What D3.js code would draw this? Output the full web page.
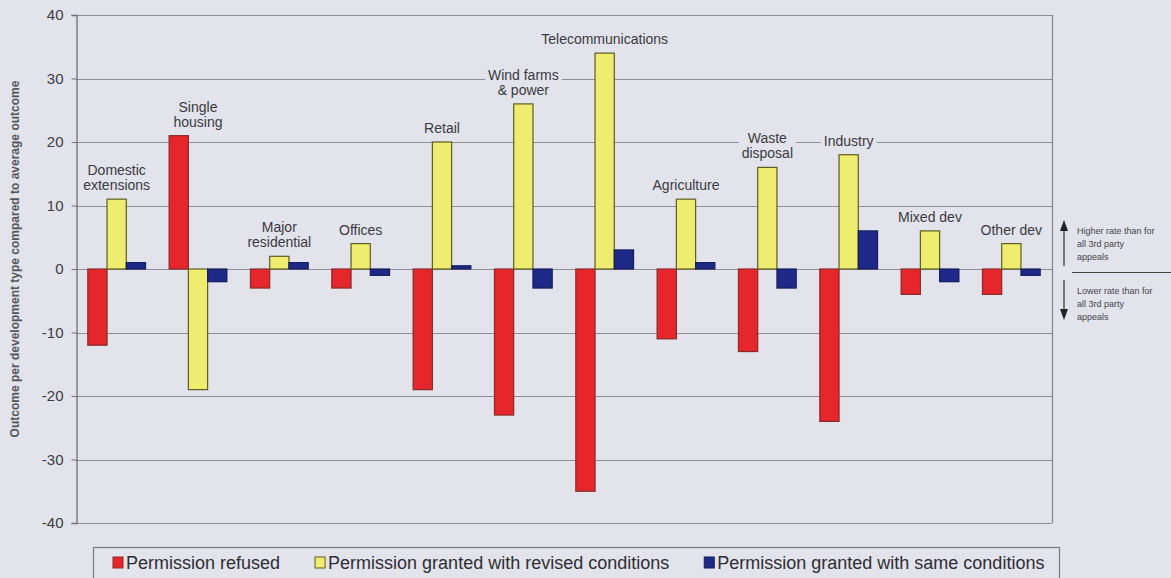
<!DOCTYPE html>
<html>
<head>
<meta charset="utf-8">
<script src="https://cdn.jsdelivr.net/npm/d3@7"></script>
<style>
  body { margin: 0; background: #e3e3eb; }
  svg { display: block; }
  text { font-family: "Liberation Sans", Arial, sans-serif; }
</style>
</head>
<body>
<svg id="chart" width="1171" height="578"></svg>
<script>
// Development types on the category axis
const categories = [
  "Domestic extensions", "Single housing", "Major residential", "Offices",
  "Retail", "Wind farms & power", "Telecommunications", "Agriculture",
  "Waste disposal", "Industry", "Mixed dev", "Other dev"
];
// Category captions as they are broken over lines above each group
const categoryLines = [
  ["Domestic", "extensions"], ["Single", "housing"], ["Major", "residential"], ["Offices"],
  ["Retail"], ["Wind farms", "& power"], ["Telecommunications"], ["Agriculture"],
  ["Waste", "disposal"], ["Industry"], ["Mixed dev"], ["Other dev"]
];

// Outcome per development type compared to the average outcome (percentage points)
const refused = [-12, 21, -3, -3, -19, -23, -35, -11, -13, -24, -4, -4];
const revisedConditions = [11, -19, 2, 4, 20, 26, 34, 11, 16, 18, 6, 4];
const sameConditions = [1, -2, 1, -1, 0.5, -3, 3, 1, -3, 6, -2, -1];

const seriesNames = [
  "Permission refused",
  "Permission granted with revised conditions",
  "Permission granted with same conditions"
];
const yTicks = [-40, -30, -20, -10, 0, 10, 20, 30, 40];

const higherNote = ["Higher rate than for", "all 3rd party", "appeals"];
const lowerNote = ["Lower rate than for", "all 3rd party", "appeals"];
const yTitle = "Outcome per development type compared to average outcome";

// ---- layout & style ----
const bg = "#e3e3eb";
const fills = ["#e5262b", "#eeed6f", "#1f2a88"];
const strokes = ["#8a2a2a", "#5e5c22", "#141c5c"];
const plot = { left: 76, right: 1052, top: 15, bottom: 523 };

const svg = d3.select("#chart");
svg.append("rect").attr("width", 1171).attr("height", 578).attr("fill", bg);

const series = [refused, revisedConditions, sameConditions];

const x = d3.scaleBand().domain(categories)
  .range([plot.left, plot.right]).paddingInner(0.29).paddingOuter(0.145);
const xs = d3.scaleBand().domain(d3.range(series.length))
  .range([0, x.bandwidth()]);
const y = d3.scaleLinear().domain([-40, 40]).range([plot.bottom, plot.top]);

// gridlines
svg.append("g")
  .selectAll("line").data(yTicks).join("line")
  .attr("x1", plot.left).attr("x2", plot.right)
  .attr("y1", d => Math.round(y(d)) + 0.5).attr("y2", d => Math.round(y(d)) + 0.5)
  .attr("stroke", "#8e8e96").attr("stroke-width", 1.1);

// plot frame right edge
svg.append("line")
  .attr("x1", plot.right + 0.5).attr("x2", plot.right + 0.5)
  .attr("y1", plot.top).attr("y2", plot.bottom)
  .attr("stroke", "#85858d").attr("stroke-width", 1.2);

// y axis (plain hyphen for negative numbers)
const yAxis = d3.axisLeft(y).tickValues(yTicks).tickSize(5).tickPadding(8)
  .tickFormat(d => String(d));
const gy = svg.append("g")
  .attr("transform", `translate(${plot.left + 0.5},0)`)
  .call(yAxis);
gy.select(".domain").attr("stroke", "#6f6f77").attr("stroke-width", 1.3);
gy.selectAll(".tick line").attr("stroke", "#6f6f77");
gy.selectAll(".tick text")
  .attr("fill", "#3c3c42").attr("font-size", 15)
  .style("font-family", "'Liberation Sans', Arial, sans-serif");

// y axis title
svg.append("text")
  .attr("transform", `translate(19,${(plot.top + plot.bottom) / 2 - 10}) rotate(-90)`)
  .attr("text-anchor", "middle")
  .attr("font-size", 12).attr("font-weight", "bold").attr("fill", "#55555c")
  .text(yTitle);

// bars
const groups = svg.append("g").selectAll("g")
  .data(categories).join("g")
  .attr("transform", d => `translate(${x(d)},0)`);

groups.selectAll("rect")
  .data((d, i) => series.map((s, k) => ({ k, v: s[i] })))
  .join("rect")
  .attr("x", d => xs(d.k))
  .attr("width", xs.bandwidth())
  .attr("y", d => y(Math.max(0, d.v)))
  .attr("height", d => Math.abs(y(d.v) - y(0)))
  .attr("fill", d => fills[d.k])
  .attr("stroke", d => strokes[d.k])
  .attr("stroke-width", 1.2);

// category captions above each group
const lineH = 15;
categories.forEach((c, i) => {
  const top = d3.max(series, s => Math.max(0, s[i]));
  const lines = categoryLines[i];
  const baseY = y(top) - 9 - (lines.length - 1) * lineH;
  const g = svg.append("g");
  const t = g.append("text")
    .attr("text-anchor", "middle")
    .attr("font-size", 14).attr("fill", "#3a3a40");
  lines.forEach((ln, j) => {
    t.append("tspan").attr("x", x(c) + x.bandwidth() / 2)
      .attr("y", baseY + j * lineH).text(ln);
  });
  const bb = t.node().getBBox();
  g.insert("rect", "text")
    .attr("x", bb.x - 3).attr("y", bb.y).attr("width", bb.width + 6).attr("height", bb.height)
    .attr("fill", bg);
});

// side note: direction of the comparison
const noteX = 1064;
const note = svg.append("g");
note.append("line").attr("x1", noteX).attr("x2", noteX).attr("y1", 266).attr("y2", 228)
  .attr("stroke", "#333").attr("stroke-width", 1.2);
note.append("path").attr("d", `M${noteX - 4},231 L${noteX},220 L${noteX + 4},231 Z`).attr("fill", "#222");
note.append("line").attr("x1", noteX).attr("x2", noteX).attr("y1", 280).attr("y2", 312)
  .attr("stroke", "#333").attr("stroke-width", 1.2);
note.append("path").attr("d", `M${noteX - 4},309 L${noteX},320 L${noteX + 4},309 Z`).attr("fill", "#222");
note.append("line").attr("x1", 1072).attr("x2", 1171).attr("y1", 272.5).attr("y2", 272.5)
  .attr("stroke", "#444").attr("stroke-width", 1);
note.append("text").attr("font-size", 9).attr("fill", "#44444a")
  .selectAll("tspan").data(higherNote).join("tspan")
  .attr("x", 1077).attr("y", (d, i) => 234 + i * 13).text(d => d);
note.append("text").attr("font-size", 9).attr("fill", "#44444a")
  .selectAll("tspan").data(lowerNote).join("tspan")
  .attr("x", 1077).attr("y", (d, i) => 294 + i * 13).text(d => d);

// legend
const legend = svg.append("g");
legend.append("rect").attr("x", 93.5).attr("y", 547.5).attr("width", 966).attr("height", 40)
  .attr("fill", bg).attr("stroke", "#7a7a82").attr("stroke-width", 1.2);
let lx = 113;
seriesNames.forEach((name, k) => {
  legend.append("rect").attr("x", lx).attr("y", 557).attr("width", 10).attr("height", 11)
    .attr("fill", fills[k]).attr("stroke", strokes[k]).attr("stroke-width", 1);
  const t = legend.append("text").attr("x", lx + 13).attr("y", 569)
    .attr("font-size", 18).attr("fill", "#2e2e34").text(name);
  lx += 13 + t.node().getComputedTextLength() + 35;
});
</script>
</body>
</html>
